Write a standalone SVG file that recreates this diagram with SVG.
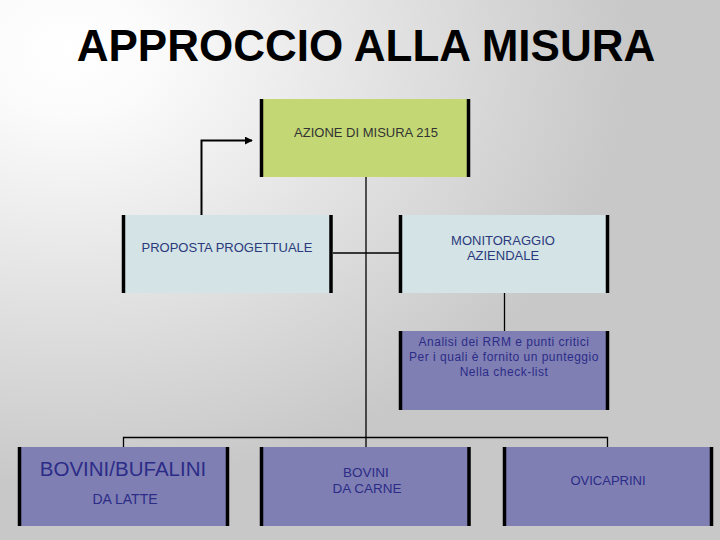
<svg xmlns="http://www.w3.org/2000/svg" width="720" height="540" viewBox="0 0 720 540">
<defs>
<radialGradient id="bg" gradientUnits="userSpaceOnUse" cx="70" cy="50" r="560" gradientTransform="translate(70 50) scale(1 0.78) translate(-70 -50)">
<stop offset="0" stop-color="#ffffff"/>
<stop offset="0.15" stop-color="#fbfbfb"/>
<stop offset="1" stop-color="#c8c8c8"/>
</radialGradient>
<marker id="arr" viewBox="0 0 10 10" refX="9" refY="5" markerWidth="4" markerHeight="4" orient="auto" markerUnits="strokeWidth">
<path d="M0,0 L10,5 L0,10 z" fill="#000"/>
</marker>
<style>
.bar{stroke:#000;stroke-width:3.5}
.con{stroke:#000;stroke-width:1.3;fill:none}
.t{font-family:"Liberation Sans",Arial,sans-serif;text-anchor:middle}
.green{fill:#c3d874}
.light{fill:#d3e3e6}
.purple{fill:#7f7fb3}
</style>
</defs>
<rect width="720" height="540" fill="url(#bg)"/>
<text class="t" x="366" y="61" font-size="44" font-weight="bold" fill="#000">APPROCCIO ALLA MISURA</text>

<g id="connectors">
<polyline class="con" style="stroke-width:2" points="201.5,217 201.5,140.5 252,140.5" marker-end="url(#arr)"/>
<line class="con" x1="366" y1="177" x2="366" y2="447"/>
<line class="con" x1="332" y1="253" x2="399" y2="253"/>
<line class="con" x1="504.5" y1="293" x2="504.5" y2="331"/>
<polyline class="con" points="123.5,447 123.5,437.5 607.5,437.5 607.5,447"/>
</g>

<g id="azione">
<rect class="green" x="260" y="99" width="210" height="78"/>
<line class="bar" x1="261.5" y1="99" x2="261.5" y2="177"/>
<line class="bar" x1="468.5" y1="99" x2="468.5" y2="177"/>
<text class="t" x="366" y="137" font-size="13" fill="#333">AZIONE DI MISURA 215</text>
</g>

<g id="proposta">
<rect class="light" x="122" y="215" width="211" height="78"/>
<line class="bar" x1="123.5" y1="215" x2="123.5" y2="293"/>
<line class="bar" x1="331" y1="215" x2="331" y2="293"/>
<text class="t" x="227" y="252" font-size="13" fill="#2b3a7c">PROPOSTA PROGETTUALE</text>
</g>

<g id="monitoraggio">
<rect class="light" x="399" y="215" width="210" height="78"/>
<line class="bar" x1="400.5" y1="215" x2="400.5" y2="293"/>
<line class="bar" x1="607.5" y1="215" x2="607.5" y2="293"/>
<text class="t" x="503" y="245" font-size="13" fill="#2b3a7c">MONITORAGGIO</text>
<text class="t" x="503" y="260" font-size="13" fill="#2b3a7c">AZIENDALE</text>
</g>

<g id="analisi">
<rect class="purple" x="399" y="331" width="210" height="79"/>
<line class="bar" x1="400.5" y1="331" x2="400.5" y2="410"/>
<line class="bar" x1="607.5" y1="331" x2="607.5" y2="410"/>
<text class="t" x="504" y="346" font-size="12" letter-spacing="0.5" fill="#2c2c88">Analisi dei RRM e punti critici</text>
<text class="t" x="504" y="361" font-size="12" letter-spacing="0.5" fill="#2c2c88">Per i quali è fornito un punteggio</text>
<text class="t" x="504" y="376" font-size="12" letter-spacing="0.5" fill="#2c2c88">Nella check-list</text>
</g>

<g id="bovini-latte">
<rect class="purple" x="18" y="447" width="211" height="79"/>
<line class="bar" x1="19.5" y1="447" x2="19.5" y2="526"/>
<line class="bar" x1="227.5" y1="447" x2="227.5" y2="526"/>
<text class="t" x="123" y="476" font-size="20.5" fill="#2c2c88">BOVINI/BUFALINI</text>
<text class="t" x="125" y="504" font-size="14" fill="#2c2c88">DA LATTE</text>
</g>

<g id="bovini-carne">
<rect class="purple" x="260" y="447" width="210" height="79"/>
<line class="bar" x1="261.5" y1="447" x2="261.5" y2="526"/>
<line class="bar" x1="469" y1="447" x2="469" y2="526"/>
<text class="t" x="366" y="477" font-size="13.5" fill="#2c2c88">BOVINI</text>
<text class="t" x="367" y="493" font-size="13.5" fill="#2c2c88">DA CARNE</text>
</g>

<g id="ovicaprini">
<rect class="purple" x="503" y="447" width="210" height="79"/>
<line class="bar" x1="504.5" y1="447" x2="504.5" y2="526"/>
<line class="bar" x1="711.5" y1="447" x2="711.5" y2="526"/>
<text class="t" x="608" y="485" font-size="13" fill="#2c2c88">OVICAPRINI</text>
</g>
</svg>
